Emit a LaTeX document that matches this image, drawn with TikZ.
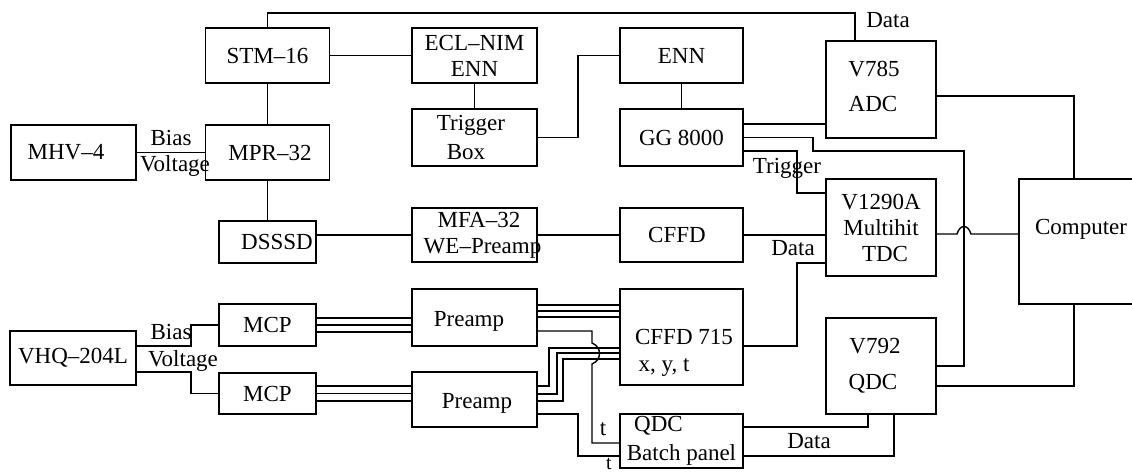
\documentclass[tikz,border=0pt]{standalone}
\usepackage{fontspec}
\setmainfont{Liberation Serif}
\tikzset{
    blk/.style={draw, line width=1.4pt, inner sep=0pt, outer sep=0pt, align=center, font=\fontsize{23}{26}\selectfont},
    txt/.style={inner sep=0pt, outer sep=0pt, font=\fontsize{23}{26}\selectfont},
    wire/.style={line width=1.4pt}
}
\begin{document}
\begin{tikzpicture}[x=1pt, y=-1pt]
            \useasboundingbox (0,0) rectangle (1132,474);
            \node[blk, minimum width=124, minimum height=55] (stm) at (267.5,55.5) {STM–16};
            \node[blk, minimum width=125, minimum height=55] (ecl) at (474.5,55.5) {ECL–NIM\\ENN};
            \node[blk, minimum width=123, minimum height=55] (enn) at (681.5,55.5) {ENN};
            \node[blk, minimum width=110, minimum height=97] (adc) at (881,89.5) {V785\hspace*{14pt}\\[9pt]\mbox{ADC\hspace{16pt}}\\[-20pt]\mbox{}};
            \node[blk, minimum width=125, minimum height=57] (trig) at (474.5,137.5) {Trigger\hspace*{7pt}\\[3pt]Box\hspace*{17pt}};
            \node[blk, minimum width=123, minimum height=57] (gg) at (681.5,137.5) {GG 8000};
            \node[blk, minimum width=125, minimum height=55] (mhv) at (73.5,152.5) {MHV–4\hspace*{15pt}};
            \node[blk, minimum width=124, minimum height=55] (mpr) at (267.5,152.5) {\hspace*{5pt}MPR–32};
            \node[blk, minimum width=97, minimum height=42] (dsssd) at (267.5,242) {\hspace*{19pt}DSSSD};
            \node[blk, minimum width=125, minimum height=54] (mfa) at (474.5,235) {\hspace*{9pt}MFA–32\\\hspace*{16pt}\makebox[0pt]{WE–Preamp}};
            \node[blk, minimum width=123, minimum height=54] (cffd) at (681.5,235) {CFFD\hspace*{9pt}};
            \node[blk, minimum width=110, minimum height=97] (tdc) at (881,227.5) {V1290A\\Multihit\\\hspace*{8pt}TDC};
            \node[blk, minimum width=121, minimum height=125] (cpu) at (1079.5,241.5) {};
            \node[txt] (cpulbl) at (1081,229) {Computer};
            \node[blk, minimum width=126, minimum height=54] (vhq) at (73,358) {VHQ–204L};
            \node[blk, minimum width=97, minimum height=42] (mcpa) at (267.5,325) {MCP};
            \node[blk, minimum width=97, minimum height=41] (mcpb) at (267.5,393.5) {MCP};
            \node[blk, minimum width=125, minimum height=57] (prea) at (474.5,317.5) {\raisebox{-8.5pt}[0pt][0pt]{Preamp}\hspace*{11pt}};
            \node[blk, minimum width=125, minimum height=55] (preb) at (474.5,399.5) {\hspace*{5pt}\raisebox{-8.5pt}[0pt][0pt]{Preamp}};
            \node[blk, minimum width=123, minimum height=96] (cfd) at (681.5,337) {\hspace*{5pt}CFFD 715};
            \node[txt] (xyt) at (664,368) {x, y, t};
            \node[blk, minimum width=123, minimum height=54] (batch) at (681.5,441) {QDC\hspace*{46pt}\\[3pt]Batch panel};
            \node[blk, minimum width=110, minimum height=96] (qdc) at (881,366) {V792\hspace*{12pt}\\[10pt]QDC\hspace*{16pt}};
            \node[txt] (biasa) at (171,138) {Bias};
            \node[txt] (volta) at (175,166) {Voltage};
            \node[txt] (biasb) at (171,332) {Bias};
            \node[txt] (voltb) at (183,361) {Voltage};
            \node[txt] (dataa) at (888,20) {Data};
            \node[txt] (trg) at (787,168) {Trigger};
            \node[txt] (datab) at (793,248) {Data};
            \node[txt] (datac) at (809,441) {Data};
            \node[txt] (ta) at (603,429) {t};
            \node[txt, font=\fontsize{20}{22}\selectfont] (tb) at (609,464) {t};
            \coordinate (busa) at (855,13);
            \coordinate (rise) at (964,151);
            \coordinate (hopa) at (957,234);
            \coordinate (hopb) at (971,234);
            \coordinate (hopc) at (592,343);
            \coordinate (hopd) at (592,364);
            \draw[wire] (stm.north) |- (busa) -- (busa |- adc.north);
            \draw[wire] (stm.east) -- (ecl.west);
            \draw[wire] (stm.south) -- (mpr.north);
            \draw[wire] (mpr.south) -- (dsssd.north);
            \draw[wire] (mhv.east) -- (mpr.west);
            \draw[wire] (ecl.south) -- (trig.north);
            \draw[wire] (trig.east) -- ++(41,0) |- (enn.west);
            \draw[wire] (enn.south) -- (gg.north);
            \draw[wire] ([yshift=13.5pt]gg.east) -- ([yshift=13.5pt]gg.east -| adc.west);
            \draw[wire] (gg.east) -- ++(70,0) |- (rise) |- (qdc.east);
            \draw[wire] ([yshift=-13.5pt]gg.east) -- ++(54,0) |- ([yshift=34.5pt]tdc.west);
            \draw[wire] ([yshift=7pt]dsssd.east) -- (mfa.west);
            \draw[wire] (mfa.east) -- (cffd.west);
            \draw[wire] (cffd.east) -- (cffd.east -| tdc.west);
            \draw[wire] ([yshift=-35.5pt]tdc.west) -- ++(-29,0) |- ([yshift=-9pt]cfd.east);
            \draw[wire] (hopa -| tdc.east) -- (hopa) .. controls +(3,-10) and +(-3,-10) .. (hopb) -- (hopb -| cpu.west);
            \draw[wire] ([yshift=-6.5pt]adc.east) -| ([xshift=-5.5pt]cpu.north);
            \draw[wire] ([yshift=-20pt]qdc.east) -| ([xshift=-5.5pt]cpu.south);
            \draw[wire] ([yshift=14pt]batch.east) -| ([xshift=-13pt]qdc.south);
            \draw[wire] ([yshift=-15pt]batch.east) -| ([xshift=13pt]qdc.south);
            \draw[wire] ([yshift=12pt]vhq.east) -- ++(55,0) |- (mcpa.west);
            \draw[wire] ([yshift=-14pt]vhq.east) -- ++(55,0) |- (mcpb.west);
            \draw[wire] ([yshift=7pt]mcpa.east) -- ([yshift=7pt]mcpa.east -| prea.west);
            \draw[wire] (mcpa.east) -- (mcpa.east -| prea.west);
            \draw[wire] ([yshift=-7pt]mcpa.east) -- ([yshift=-7pt]mcpa.east -| prea.west);
            \draw[wire] ([yshift=7.5pt]mcpb.east) -- ([yshift=7.5pt]mcpb.east -| preb.west);
            \draw[wire] (mcpb.east) -- (mcpb.east -| preb.west);
            \draw[wire] ([yshift=-7.5pt]mcpb.east) -- ([yshift=-7.5pt]mcpb.east -| preb.west);
            \draw[wire] ([yshift=12.5pt]prea.east) -- ([yshift=12.5pt]prea.east -| cfd.west);
            \draw[wire] ([yshift=6.5pt]prea.east) -- ([yshift=6.5pt]prea.east -| cfd.west);
            \draw[wire] ([yshift=0.5pt]prea.east) -- ([yshift=0.5pt]prea.east -| cfd.west);
            \draw[wire] ([yshift=13.5pt]preb.east) -- ++(12,0) |- ([yshift=-11pt]cfd.west);
            \draw[wire] ([yshift=5.5pt]preb.east) -- ++(20,0) |- ([yshift=-16pt]cfd.west);
            \draw[wire] ([yshift=-1.5pt]preb.east) -- ++(26,0) |- ([yshift=-22pt]cfd.west);
            \draw[wire] ([yshift=-13.5pt]prea.east) -| (hopc) .. controls +(10,4) and +(10,-4) .. (hopd) |- ([yshift=-2pt]batch.west);
            \draw[wire] ([yshift=-14.5pt]preb.east) -- ++(41,0) |- ([yshift=-15pt]batch.west);
        \end{tikzpicture}
\end{document}
